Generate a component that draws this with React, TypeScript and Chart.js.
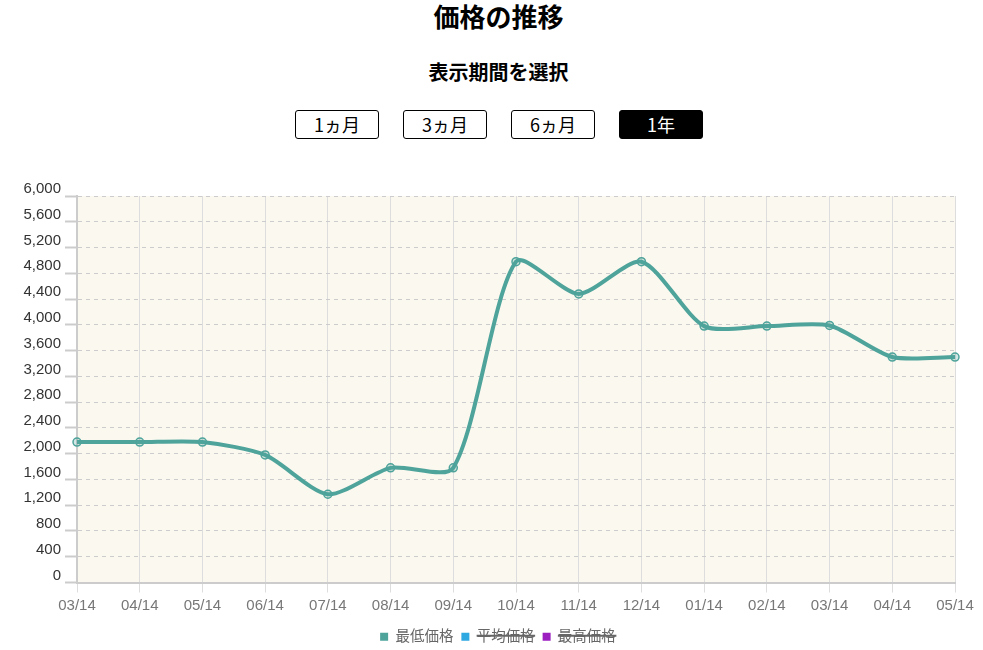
import { useEffect, useRef } from 'react';
import { Chart, registerables } from 'chart.js';

Chart.register(...registerables);

const months = ['03/14', '04/14', '05/14', '06/14', '07/14', '08/14', '09/14', '10/14', '11/14', '12/14', '01/14', '02/14', '03/14', '04/14', '05/14'];
const minPrices = [2180, 2180, 2180, 1980, 1370, 1780, 1780, 4980, 4480, 4980, 3980, 3980, 3990, 3500, 3500];
// 平均・最高は非表示（凡例で打ち消し線）
const avgPrices: number[] = [];
const maxPrices: number[] = [];
const periods = ['1ヵ月', '3ヵ月', '6ヵ月', '1年'];
const activePeriod = '1年';

const TEAL = 'rgb(78, 163, 155)';
const FONT = "'Liberation Sans', Arial, 'Noto Sans CJK JP', sans-serif";
const JP_FONT = "'Noto Sans CJK JP', sans-serif";

// チャートエリアの背景
const plotBg = {
  id: 'plotBg',
  beforeDraw(chart: any) {
    const { ctx, chartArea } = chart;
    if (!chartArea) return;
    ctx.save();
    ctx.fillStyle = '#faf8ef';
    ctx.fillRect(chartArea.left, chartArea.top, chartArea.right - chartArea.left, chartArea.bottom - chartArea.top);
    ctx.restore();
  },
};

function PriceChart() {
  const canvasRef = useRef<HTMLCanvasElement>(null);
  const chartRef = useRef<Chart | null>(null);

  useEffect(() => {
    if (!canvasRef.current) return;
    if (chartRef.current) chartRef.current.destroy();
    const ctx = canvasRef.current.getContext('2d');
    if (!ctx) return;

    chartRef.current = new Chart(ctx, {
      type: 'line',
      data: {
        labels: months,
        datasets: [
          {
            label: '最低価格',
            data: minPrices,
            borderColor: TEAL,
            backgroundColor: TEAL,
            borderWidth: 4,
            tension: 0.25,
            fill: false,
            pointRadius: 4,
            pointBorderWidth: 1.5,
            pointBorderColor: TEAL,
            pointBackgroundColor: 'rgba(78, 163, 155, 0.25)',
          },
          {
            label: '平均価格',
            data: avgPrices,
            borderColor: '#2ea8e0',
            backgroundColor: '#2ea8e0',
            hidden: true,
          },
          {
            label: '最高価格',
            data: maxPrices,
            borderColor: '#9c1fc0',
            backgroundColor: '#9c1fc0',
            hidden: true,
          },
        ],
      },
      options: {
        animation: false,
        responsive: true,
        maintainAspectRatio: false,
        locale: 'en-US',
        layout: { padding: { top: 46, right: 0, left: 13, bottom: 0 } },
        plugins: {
          legend: {
            position: 'bottom',
            labels: {
              boxWidth: 8,
              boxHeight: 8,
              padding: 8,
              color: '#666',
              font: { family: FONT, size: 14.5 },
              generateLabels: (chart: any) =>
                Chart.defaults.plugins.legend.labels
                  .generateLabels(chart)
                  .map((l: any) => ({ ...l, lineWidth: 0, fillStyle: l.strokeStyle })),
            },
          },
          tooltip: { enabled: false },
        },
        scales: {
          x: {
            offset: false,
            afterFit: (scale: any) => {
              scale.height += 3;
              scale.paddingRight = 28;
            },
            grid: { color: '#ddd', lineWidth: 1, tickLength: 10, tickColor: '#ddd' },
            border: { color: '#ccc', width: 2 },
            ticks: { color: '#777', padding: 4, font: { family: FONT, size: 15 }, maxRotation: 0, autoSkip: false },
          },
          y: {
            min: 0,
            max: 6000,
            afterFit: (scale: any) => {
              scale.width = 64;
            },
            grid: { color: '#ccc', lineWidth: 1, tickLength: 12, tickColor: '#ccc', tickWidth: 2, tickBorderDash: [] },
            border: { color: '#ccc', width: 2, dash: [4, 4] },
            ticks: { stepSize: 400, color: '#333', padding: 4, labelOffset: -7, font: { family: FONT, size: 15 } },
          },
        },
      },
      plugins: [plotBg],
    });

    return () => {
      if (chartRef.current) {
        chartRef.current.destroy();
        chartRef.current = null;
      }
    };
  }, []);

  return (
    <div style={{ position: 'absolute', left: 0, top: 150, width: 983, height: 504 }}>
      <canvas ref={canvasRef} />
    </div>
  );
}

export default function App() {
  return (
    <div
      style={{
        position: 'fixed',
        left: 0,
        top: 0,
        width: 983,
        height: 650,
        overflow: 'hidden',
        background: '#fff',
        fontFamily: JP_FONT,
      }}
    >
      <div style={{ position: 'absolute', left: 0, width: 997, top: 3, textAlign: 'center', fontSize: 26, fontWeight: 'bold', lineHeight: 1 }}>
        価格の推移
      </div>
      <div style={{ position: 'absolute', left: 0, width: 997, top: 62, textAlign: 'center', fontSize: 20, fontWeight: 'bold', lineHeight: 1 }}>
        表示期間を選択
      </div>
      {periods.map((p, i) => {
        const active = p === activePeriod;
        return (
          <div
            key={p}
            style={{
              position: 'absolute',
              left: 295 + i * 108,
              top: 110,
              width: 84,
              height: 29,
              boxSizing: 'border-box',
              border: '1px solid #000',
              borderRadius: 3,
              background: active ? '#000' : '#fff',
              color: active ? '#fff' : '#000',
              fontSize: 18,
              lineHeight: '27px',
              textAlign: 'center',
            }}
          >
            {p}
          </div>
        );
      })}
      <PriceChart />
    </div>
  );
}
